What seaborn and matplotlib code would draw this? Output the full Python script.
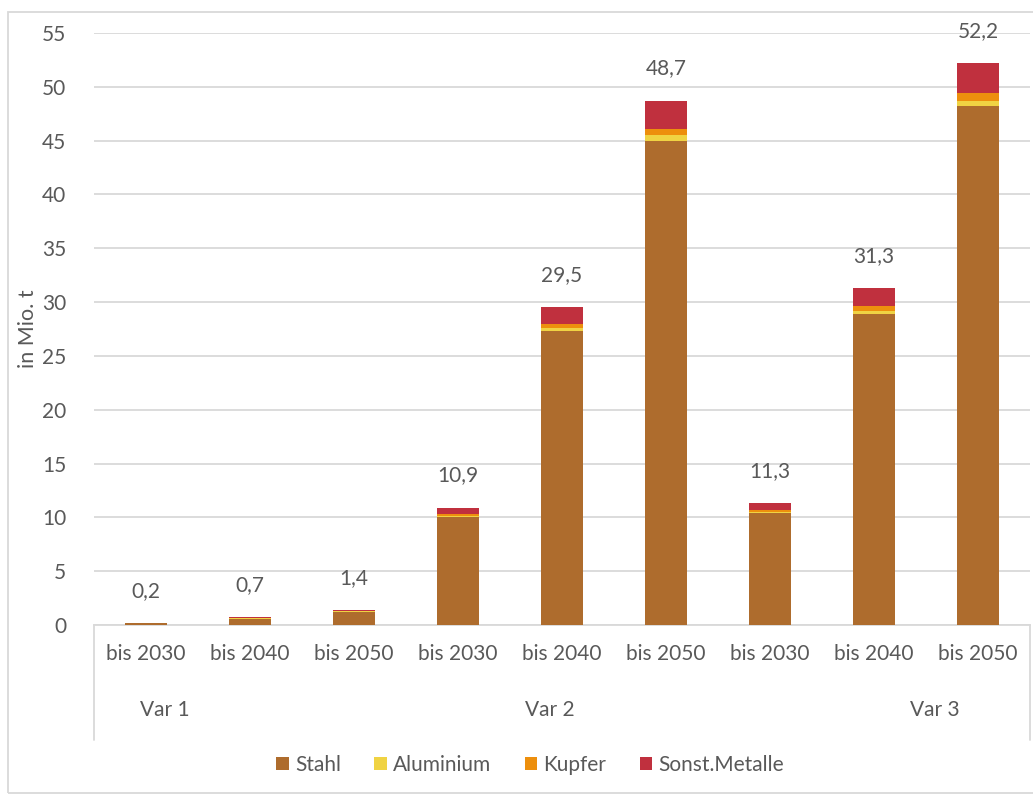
import matplotlib
matplotlib.use("Agg")
import matplotlib.pyplot as plt
from matplotlib.patches import Rectangle, Patch
import seaborn as sns
import pandas as pd
import numpy as np

# Material demand per scenario and horizon (Mio. t)
variants = ["Var 1", "Var 1", "Var 1", "Var 2", "Var 2", "Var 2", "Var 3", "Var 3", "Var 3"]
horizons = ["bis 2030", "bis 2040", "bis 2050"] * 3
stahl = [0.15, 0.60, 1.25, 10.0, 27.3, 45.0, 10.4, 28.9, 48.2]
aluminium = [0.01, 0.02, 0.03, 0.1, 0.3, 0.5, 0.1, 0.3, 0.5]
kupfer = [0.02, 0.03, 0.04, 0.2, 0.4, 0.6, 0.2, 0.4, 0.7]
sonstige = [0.02, 0.05, 0.08, 0.6, 1.5, 2.6, 0.6, 1.7, 2.8]
group_labels = ["Var 1", "Var 2", "Var 3"]
y_ticks = [0, 5, 10, 15, 20, 25, 30, 35, 40, 45, 50, 55]

colors = {
    "Stahl": "#ae6c2d",
    "Aluminium": "#f0d343",
    "Kupfer": "#ed8f0d",
    "Sonst.Metalle": "#c0303e",
}
text_color = "#595959"
grid_color = "#d9d9d9"

sns.set_theme(style="white")
plt.rcParams["font.family"] = ["Lato", "DejaVu Sans"]

df = pd.DataFrame({
    "slot": [f"{v}|{h}" for v, h in zip(variants, horizons)],
    "Stahl": stahl,
    "Aluminium": aluminium,
    "Kupfer": kupfer,
    "Sonst.Metalle": sonstige,
})
# cumulative heights for layered stacking
df["c1"] = df["Stahl"]
df["c2"] = df["c1"] + df["Aluminium"]
df["c3"] = df["c2"] + df["Kupfer"]
df["c4"] = df["c3"] + df["Sonst.Metalle"]

fig = plt.figure(figsize=(10.33, 7.96), dpi=100)
ax = fig.add_axes([94 / 1033, 171 / 796, 936 / 1033, 592 / 796])

order = list(df["slot"])
layers = [("c4", "Sonst.Metalle"), ("c3", "Kupfer"), ("c2", "Aluminium"), ("c1", "Stahl")]
for col, name in layers:
    sns.barplot(data=df, x="slot", y=col, order=order, color=colors[name],
                saturation=1, width=0.4, ax=ax, errorbar=None, zorder=3,
                linewidth=0, edgecolor="none")

ax.set_ylim(0, 55)
ax.set_xlim(-0.5, len(order) - 0.5)
ax.set_yticks(y_ticks)
ax.set_yticklabels([str(t) for t in y_ticks], fontsize=15, color=text_color)
ax.yaxis.grid(True, color=grid_color, linewidth=1.3, zorder=0)
ax.tick_params(axis="y", length=0, pad=20)
ax.tick_params(axis="x", length=0, pad=14)
ax.set_xticks(range(len(order)))
ax.set_xticklabels(horizons, fontsize=15, color=text_color)
ax.set_xlabel("")
ax.set_ylabel("in Mio. t", fontsize=15.5, color=text_color)
ax.yaxis.set_label_coords((38 - 94) / 936, 0.5)
for s in ["top", "right", "left"]:
    ax.spines[s].set_visible(False)
ax.spines["bottom"].set_color(grid_color)
ax.spines["bottom"].set_linewidth(1.3)
ax.set_axisbelow(True)

# total value labels above each stack
for i, tot in enumerate(df["c4"]):
    ax.annotate(f"{tot:.1f}".replace(".", ","), (i, tot), xytext=(0, 16),
                textcoords="offset points", ha="center", va="bottom",
                fontsize=15, color=text_color)

# boundary lines of the category axis
trans = ax.get_xaxis_transform()
for xb in [-0.5, len(order) - 0.5]:
    ax.plot([xb, xb], [0, -0.195], transform=trans, color=grid_color,
            linewidth=1.3, clip_on=False)

# scenario labels
for lbl, xp in zip(group_labels, [165, 550, 935]):
    fig.text(xp / 1033, 1 - 710 / 796, lbl, ha="center", va="center",
             fontsize=15, color=text_color)

handles = [Patch(facecolor=colors[n], edgecolor="none") for n in
           ["Stahl", "Aluminium", "Kupfer", "Sonst.Metalle"]]
leg = fig.legend(handles, ["Stahl", "Aluminium", "Kupfer", "Sonst.Metalle"],
                 loc="center", bbox_to_anchor=(530 / 1033, 1 - 765 / 796),
                 ncol=4, frameon=False, fontsize=15, handlelength=0.6,
                 handleheight=0.6, handletextpad=0.3, columnspacing=1.6)
for t in leg.get_texts():
    t.set_color(text_color)

# outer chart frame
fig.patches.append(Rectangle((8 / 1033, 3 / 796), 1.2, 781 / 796,
                             transform=fig.transFigure, fill=False,
                             edgecolor=grid_color, linewidth=1.3))

fig.savefig("out.png", dpi=100, facecolor="white")
